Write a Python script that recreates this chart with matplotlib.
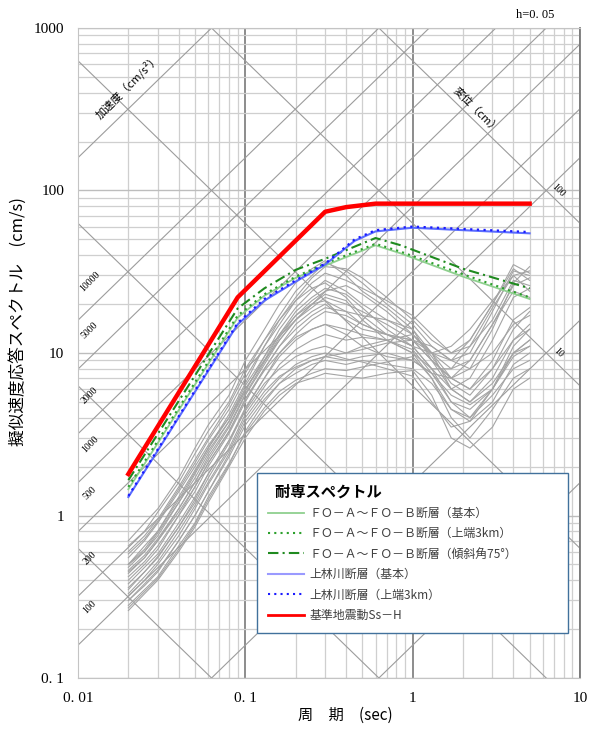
import numpy as np
import matplotlib.pyplot as plt
from matplotlib.lines import Line2D
from matplotlib.ticker import LogLocator, NullFormatter

plt.rcParams['font.family'] = ['Noto Sans CJK JP', 'DejaVu Sans']

# ---- design spectra (耐専スペクトル) ----
t_ss = [0.02, 0.09, 0.3, 0.4, 0.6, 5.0]
sv_ss = [1.8, 22.0, 74.0, 79.0, 83.0, 83.0]

t_blue = [0.02, 0.09, 0.13, 0.2, 0.3, 0.45, 0.6, 1.0, 2.0, 5.0]
sv_blue_base = [1.3, 15.0, 21.0, 27.5, 35.0, 49.0, 56.0, 59.0, 57.0, 54.5]
sv_blue_top3 = [1.32, 15.3, 21.5, 28.0, 35.5, 50.0, 57.0, 60.0, 58.0, 55.5]

t_green = [0.02, 0.09, 0.13, 0.2, 0.3, 0.6, 0.85, 2.0, 5.0]
sv_green_base = [1.45, 16.5, 22.5, 29.0, 34.5, 46.0, 41.0, 29.5, 21.5]
sv_green_top3 = [1.5, 17.0, 23.0, 29.5, 35.5, 47.0, 42.0, 30.5, 22.0]
sv_green_dip75 = [1.65, 18.8, 25.0, 32.5, 38.0, 51.0, 46.0, 33.0, 25.0]

# ---- observed spectra (gray) ----
t_obs = [0.02, 0.025, 0.03, 0.04, 0.05, 0.06, 0.08, 0.1, 0.13, 0.16, 0.2, 0.25,
         0.3, 0.4, 0.5, 0.7, 1.0, 1.3, 1.7, 2.2, 3.0, 4.0, 5.0]
obs_curves = [
    [0.6, 0.75, 0.95, 1.5, 2.2, 3.0, 4.8, 7.5, 12, 17, 24, 30, 36, 32, 27, 20, 15, 11, 9, 10, 18, 32, 30],
    [0.7, 0.9, 1.1, 1.7, 2.6, 3.6, 5.5, 9, 14, 20, 27, 33, 37, 30, 24, 19, 14, 9, 7, 8, 14, 27, 34],
    [0.5, 0.65, 0.8, 1.3, 1.9, 2.6, 4.2, 6.5, 11, 15, 21, 27, 31, 28, 25, 21, 17, 13, 10, 11, 16, 28, 26],
    [0.45, 0.55, 0.7, 1.1, 1.6, 2.2, 3.5, 5.5, 8.5, 12, 16, 19, 22, 20, 18, 15, 12, 9, 7, 6, 9, 16, 19],
    [0.4, 0.5, 0.62, 1.0, 1.4, 2.0, 3.2, 5.0, 8, 11, 14, 17, 19, 18, 17, 16, 14, 10, 6, 5, 7, 12, 14],
    [0.55, 0.7, 0.9, 1.4, 2.0, 2.7, 4.0, 6.0, 9, 13, 18, 22, 25, 23, 19, 14, 11, 8, 6, 7, 12, 22, 25],
    [0.35, 0.45, 0.55, 0.85, 1.2, 1.7, 2.8, 4.5, 7, 10, 13, 16, 18, 17, 15, 13, 11, 8, 5, 4, 6, 10, 12],
    [0.5, 0.6, 0.75, 1.2, 1.8, 2.5, 3.8, 5.8, 9.5, 14, 19, 24, 28, 24, 20, 16, 13, 10, 8, 9, 15, 26, 29],
    [0.3, 0.38, 0.46, 0.7, 1.0, 1.4, 2.3, 3.6, 5.2, 6.5, 7.5, 8.5, 9, 8.5, 9, 8.5, 8, 6.5, 4.5, 4, 5.5, 8, 9],
    [0.28, 0.35, 0.42, 0.65, 0.9, 1.3, 2.1, 3.2, 4.6, 5.8, 6.8, 7.5, 8, 7.8, 8.2, 8.8, 9.5, 7, 4, 3, 4.5, 7, 8],
    [0.32, 0.4, 0.5, 0.75, 1.1, 1.55, 2.5, 4.0, 5.8, 7.2, 8.2, 9, 9.5, 9, 9.5, 10, 9, 7.5, 5.5, 4.8, 6, 9.5, 11],
    [0.26, 0.33, 0.4, 0.6, 0.85, 1.2, 2.0, 3.0, 4.4, 5.5, 6.5, 7, 7.5, 7.2, 7, 7.5, 7.8, 5.5, 3, 2.6, 3.5, 6, 7],
    [0.38, 0.48, 0.58, 0.9, 1.3, 1.8, 2.9, 4.4, 6.5, 8, 9.5, 10.5, 11, 10, 10.5, 11.5, 12, 9, 6, 5, 6.5, 10, 12],
    [0.3, 0.37, 0.45, 0.7, 1.0, 1.4, 2.4, 3.8, 5.5, 7, 8.5, 9.5, 10, 9.2, 8.8, 8, 7.2, 5, 3.5, 3.8, 6, 11, 14],
    [0.42, 0.52, 0.65, 1.0, 1.5, 2.1, 3.3, 5.2, 8, 11, 15, 18, 20, 16, 14, 13, 12, 10, 9, 12, 20, 33, 28],
    [0.48, 0.6, 0.78, 1.2, 1.7, 2.4, 3.8, 6, 9, 12, 16, 20, 23, 21, 16, 12, 10, 8, 8, 11, 19, 30, 32],
    [0.36, 0.45, 0.56, 0.85, 1.25, 1.8, 2.9, 4.6, 7, 9.5, 12, 14, 15, 13, 11, 9.5, 9, 7.5, 7, 9, 15, 24, 22],
    [0.65, 0.8, 1.05, 1.6, 2.4, 3.3, 5.0, 8, 12, 16, 21, 25, 27, 22, 17, 13, 11, 10, 11, 14, 21, 30, 24],
    [0.33, 0.42, 0.52, 0.8, 1.15, 1.6, 2.6, 4.2, 6.2, 8.5, 10.5, 12, 13, 12, 12.5, 12, 10.5, 7.5, 5, 4.5, 6, 10, 11],
    [0.44, 0.55, 0.7, 1.05, 1.5, 2.1, 3.3, 5.2, 7.8, 10, 12.5, 14, 15, 14, 13, 12, 10, 7, 4.5, 3.8, 5, 8.5, 10],
    [0.5, 0.62, 0.8, 1.25, 1.85, 2.6, 4.0, 6.3, 9.5, 13, 17, 20, 21, 18, 15, 13, 12, 11, 9, 8, 10, 15, 17],
    [0.27, 0.34, 0.41, 0.62, 0.88, 1.25, 2.05, 3.3, 5, 6.5, 8, 9, 9.5, 10, 11, 12, 13, 10, 7, 6, 8, 12, 15],
    [0.58, 0.72, 0.92, 1.45, 2.1, 2.9, 4.5, 7, 11, 16, 22, 29, 34, 33, 29, 22, 16, 12, 10, 12, 20, 35, 31],
    [0.46, 0.57, 0.72, 1.1, 1.6, 2.3, 3.6, 5.6, 8.8, 12.5, 17, 21, 24, 26, 23, 18, 13, 9.5, 6.5, 5.5, 8, 14, 18],
]

# ---- tripartite grid ----
accel_levels = [1, 10, 100, 200, 500, 1000, 2000, 5000, 10000, 100000]   # cm/s2
accel_labels = [100, 200, 500, 1000, 2000, 5000, 10000]
disp_levels = [0.001, 0.01, 0.1, 1, 10, 100]                            # cm
disp_labels = [10, 100]

x_ticks = [0.01, 0.1, 1, 10]
x_ticklabels = ['0. 01', '0. 1', '1', '10']
y_ticks = [0.1, 1, 10, 100, 1000]
y_ticklabels = ['0. 1', '1', '10', '100', '1000']

serif = ['Liberation Serif', 'DejaVu Serif']

fig = plt.figure(figsize=(5.89, 7.31), dpi=100)
ax = fig.add_axes([0.1324, 0.0725, 0.8523, 0.8892])
ax.set_xscale('log')
ax.set_yscale('log')
ax.set_xlim(0.01, 10)
ax.set_ylim(0.1, 1000)

# rectangular log grid
ax.xaxis.set_minor_locator(LogLocator(base=10, subs=np.arange(2, 10)))
ax.yaxis.set_minor_locator(LogLocator(base=10, subs=np.arange(2, 10)))
ax.xaxis.set_minor_formatter(NullFormatter())
ax.yaxis.set_minor_formatter(NullFormatter())
ax.grid(which='minor', color='#cfcfcf', lw=0.9)
ax.grid(which='major', axis='y', color='#bdbdbd', lw=1.0)
ax.grid(which='major', axis='x', color='#6e6e6e', lw=1.1)
ax.set_axisbelow(True)
for s in ['left', 'top', 'bottom']:
    ax.spines[s].set_color('#c4c4c4')
ax.spines['right'].set_color('#7a7a7a')
ax.spines['right'].set_linewidth(1.3)

# diagonal lines: SV = A T / 2pi and SV = 2pi D / T
t_line = np.array([0.005, 20.0])
for a in accel_levels:
    ax.plot(t_line, a * t_line / (2 * np.pi), color='#9c9c9c', lw=0.8, zorder=1)
for d in disp_levels:
    ax.plot(t_line, 2 * np.pi * d / t_line, color='#9c9c9c', lw=0.8, zorder=1)

for a in accel_labels:
    tl = 0.0118
    ax.text(tl, a * tl / (2 * np.pi) * 10 ** 0.165, str(a), rotation=45,
            ha='center', va='center', fontsize=7, family=serif, zorder=2)
for d in disp_labels:
    tl = 7.4
    ax.text(tl, 2 * np.pi * d / tl * 10 ** 0.07, str(d), rotation=-45,
            ha='center', va='center', fontsize=7, family=serif, zorder=2)
ax.text(0.0197, 440, '加速度（cm/s²）', rotation=45, ha='center', va='center',
        fontsize=8, zorder=2)
ax.text(2.39, 313, '変位（cm）', rotation=-45, ha='center', va='center',
        fontsize=8, zorder=2)

# observed spectra
for sv in obs_curves:
    ax.plot(t_obs, sv, color='#a4a4a4', lw=0.8, zorder=3)

# design spectra
ax.plot(t_green, sv_green_base, color='#8fd08f', lw=1.3, zorder=4)
ax.plot(t_green, sv_green_top3, color='#2ca02c', lw=1.5, ls=(0, (1, 2)), zorder=4)
ax.plot(t_green, sv_green_dip75, color='#1f8a1f', lw=1.5, ls=(0, (5, 2, 1, 2)), zorder=4)
ax.plot(t_blue, sv_blue_base, color='#5a6cff', lw=1.5, zorder=5)
ax.plot(t_blue, sv_blue_top3, color='#1a1aff', lw=1.6, ls=(0, (1, 2)), zorder=5)
ax.plot(t_ss, sv_ss, color='#ff0000', lw=3.2, zorder=6)

# ticks / labels
ax.set_xticks(x_ticks)
ax.set_xticklabels(x_ticklabels, family=serif, fontsize=11)
ax.set_yticks(y_ticks)
ax.set_yticklabels(y_ticklabels, family=serif, fontsize=11)
ax.tick_params(which='both', length=0)
ax.tick_params(axis='x', pad=10)
ax.tick_params(axis='y', pad=10)

ax.set_xlabel('周　期　(sec)', fontsize=11)
ax.xaxis.set_label_coords(0.532, -0.045)
ax.set_ylabel('擬似速度応答スペクトル　(cm/s)', fontsize=12)
ax.yaxis.set_label_coords(-0.102, 0.548)

fig.text(0.908, 0.979, 'h=0. 05', fontsize=9, family=serif, ha='center', va='center')

# legend
handles = [
    Line2D([], [], color='#8fd08f', lw=1.3),
    Line2D([], [], color='#2ca02c', lw=1.5, ls=(0, (1, 2))),
    Line2D([], [], color='#1f8a1f', lw=1.5, ls=(0, (5, 2, 1, 2))),
    Line2D([], [], color='#9a9aff', lw=1.5),
    Line2D([], [], color='#1a1aff', lw=1.5, ls=(0, (1, 2))),
    Line2D([], [], color='#ff0000', lw=2.0),
]
labels = [
    'ＦＯ－Ａ～ＦＯ－Ｂ断層（基本）',
    'ＦＯ－Ａ～ＦＯ－Ｂ断層（上端3km）',
    'ＦＯ－Ａ～ＦＯ－Ｂ断層（傾斜角75°）',
    '上林川断層（基本）',
    '上林川断層（上端3km）',
    '基準地震動Ss－H',
]
leg = ax.legend(handles, labels, title='  耐専スペクトル', loc='upper left',
                bbox_to_anchor=(0.357, 0.07, 0.62, 0.246), mode='expand',
                borderaxespad=0, fancybox=False, framealpha=1, edgecolor='#41719c',
                prop={'size': 8.6}, handlelength=3.0, handletextpad=0.5,
                labelspacing=0.62, alignment='left', borderpad=0.9)
leg.get_title().set_fontweight('bold')
leg.get_title().set_fontsize(11)
leg.get_frame().set_linewidth(1.0)
leg.set_zorder(10)
for t in leg.get_texts():
    t.set_color('#404040')

fig.savefig('out.png', dpi=100)
